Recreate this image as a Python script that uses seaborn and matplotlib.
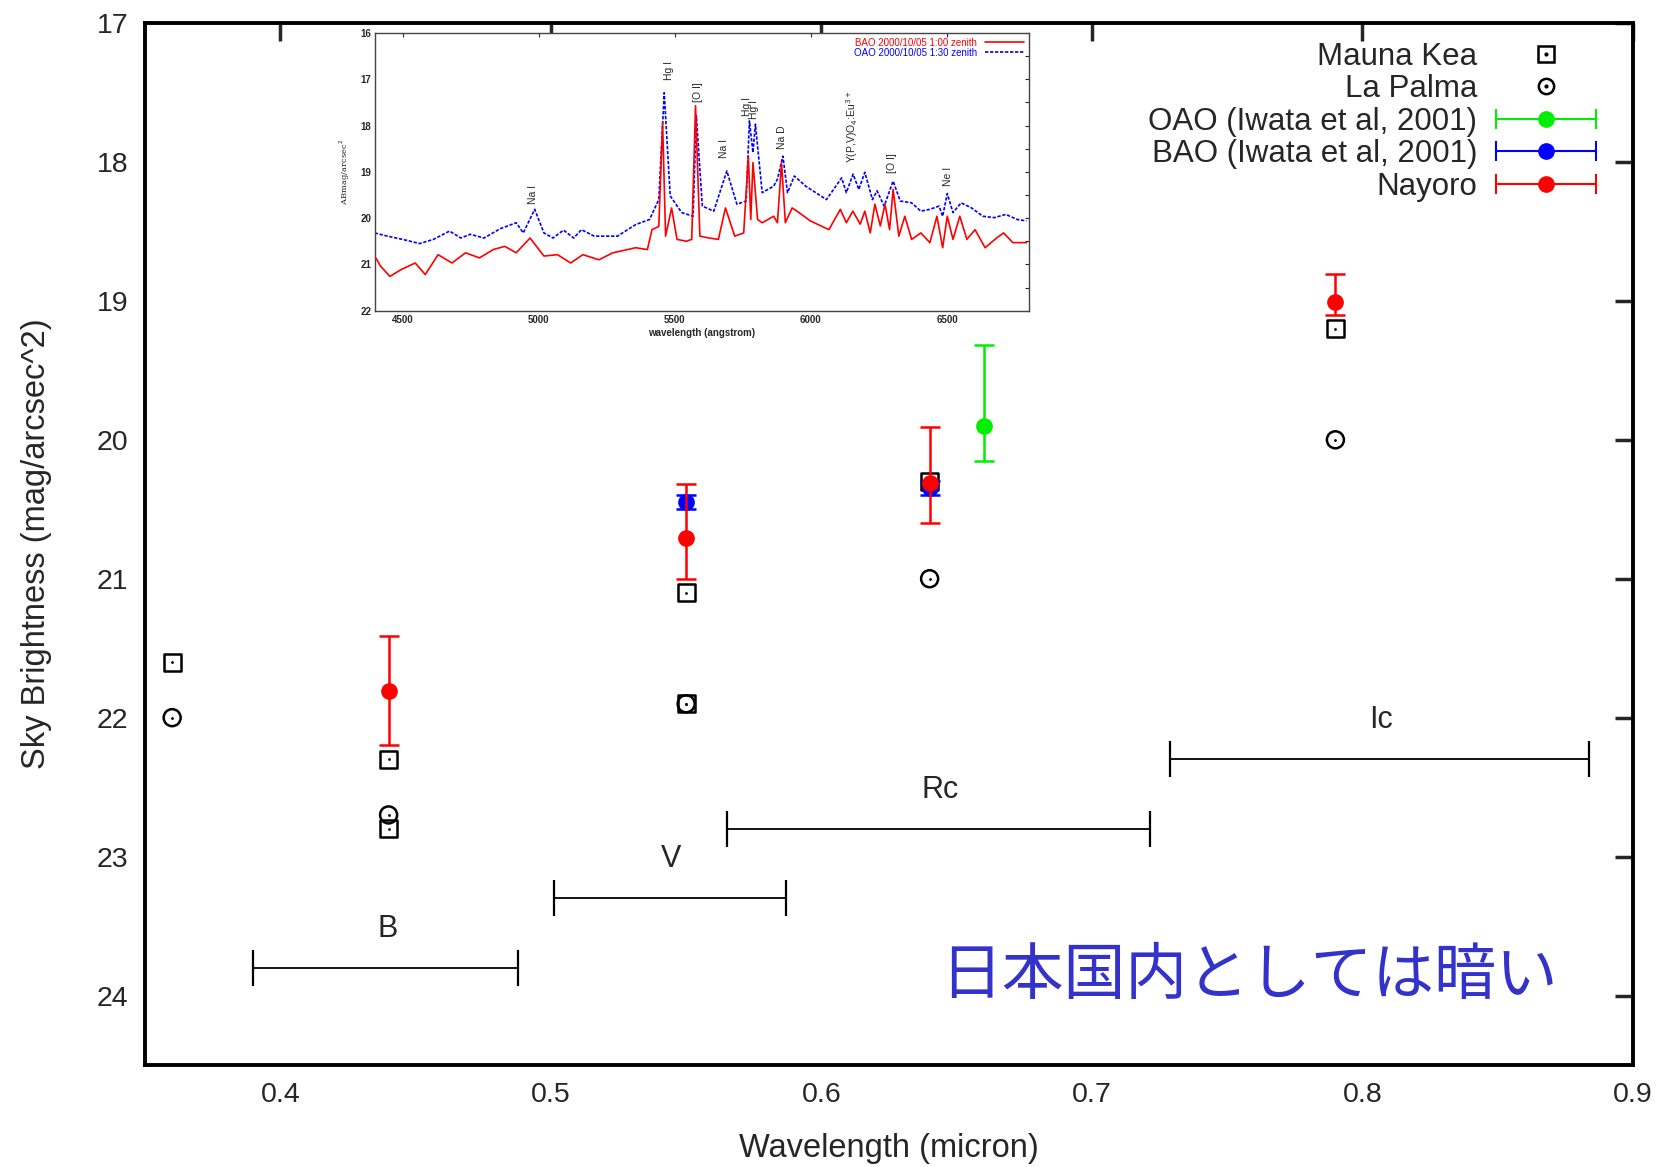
import numpy as np
import pandas as pd
import matplotlib
matplotlib.use('Agg')
import matplotlib.pyplot as plt
import seaborn as sns
from matplotlib.lines import Line2D
from matplotlib.legend_handler import HandlerBase, HandlerTuple

# ---- main data (wavelength in micron, sky brightness in mag/arcsec^2) ----
mk_wave = [0.36, 0.44, 0.44, 0.55, 0.55, 0.64, 0.79]
mk_mag = [21.6, 22.3, 22.8, 21.1, 21.9, 20.3, 19.2]

lp_wave = [0.36, 0.44, 0.55, 0.64, 0.79]
lp_mag = [22.0, 22.7, 21.9, 21.0, 20.0]

oao_wave = [0.66]
oao_mag = [19.9]
oao_err_lo = [0.58]
oao_err_hi = [0.25]

bao_wave = [0.55, 0.64]
bao_mag = [20.45, 20.35]
bao_err = [0.05, 0.05]

nay_wave = [0.44, 0.55, 0.64, 0.79]
nay_mag = [21.81, 20.71, 20.31, 19.01]
nay_err_lo = [0.40, 0.39, 0.40, 0.20]
nay_err_hi = [0.39, 0.29, 0.29, 0.09]

band_names = ['B', 'V', 'Rc', 'Ic']
band_lo = [0.390, 0.501, 0.565, 0.729]
band_hi = [0.488, 0.587, 0.7215, 0.8836]
band_mag = [23.8, 23.3, 22.8, 22.3]

# ---- inset spectra (angstrom, ABmag/arcsec^2) ----
oao_spec_wave = [4397, 4444, 4500, 4562, 4613, 4672, 4714, 4748, 4799, 4858,
                 4917, 4943, 4985, 5019, 5052, 5091, 5128, 5157, 5204, 5289,
                 5356, 5407, 5441, 5461, 5483, 5525, 5567, 5579, 5601, 5643,
                 5691, 5728, 5762, 5774, 5787, 5796, 5821, 5863, 5877, 5897,
                 5914, 5939, 5981, 6057, 6113, 6130, 6155, 6176, 6198, 6226,
                 6243, 6269, 6302, 6328, 6370, 6404, 6437, 6471, 6484, 6501,
                 6522, 6552, 6590, 6632, 6674, 6716, 6758, 6792]
oao_spec_mag = [20.32, 20.39, 20.46, 20.55, 20.46, 20.28, 20.43, 20.35, 20.43, 20.23,
                20.10, 20.32, 19.81, 20.32, 20.43, 20.26, 20.43, 20.25, 20.39, 20.39,
                20.14, 20.03, 19.60, 17.29, 19.52, 19.88, 19.96, 17.79, 19.74, 19.85,
                18.98, 19.70, 19.63, 17.90, 18.58, 17.97, 19.45, 19.31, 19.16, 18.66,
                19.45, 19.09, 19.31, 19.60, 19.13, 19.45, 19.05, 19.38, 19.01, 19.60,
                19.41, 19.74, 19.20, 19.63, 19.67, 19.85, 19.81, 19.74, 19.96, 19.47,
                19.88, 19.67, 19.78, 19.96, 19.99, 19.92, 20.03, 20.06]

bao_spec_wave = [4397, 4419, 4453, 4495, 4546, 4583, 4630, 4681, 4731, 4782,
                 4833, 4875, 4917, 4968, 5019, 5069, 5117, 5162, 5221, 5272,
                 5356, 5399, 5416, 5441, 5455, 5466, 5488, 5508, 5542, 5562,
                 5576, 5592, 5626, 5660, 5686, 5720, 5753, 5770, 5779, 5787,
                 5804, 5821, 5863, 5877, 5892, 5906, 5931, 5956, 5998, 6066,
                 6108, 6130, 6154, 6181, 6198, 6218, 6235, 6255, 6272, 6289,
                 6302, 6323, 6345, 6370, 6404, 6437, 6463, 6484, 6501, 6522,
                 6547, 6573, 6603, 6640, 6682, 6708, 6742, 6792]
bao_spec_mag = [20.82, 21.04, 21.26, 21.11, 20.97, 21.22, 20.79, 20.97, 20.75, 20.86,
                20.68, 20.61, 20.75, 20.43, 20.82, 20.79, 20.97, 20.79, 20.90, 20.75,
                20.64, 20.68, 20.25, 20.18, 17.94, 20.39, 19.78, 20.46, 20.50, 20.46,
                17.57, 20.39, 20.43, 20.46, 19.78, 20.39, 20.32, 18.66, 20.03, 18.80,
                20.03, 20.10, 19.96, 20.10, 18.80, 20.10, 19.78, 19.88, 20.06, 20.25,
                19.81, 20.10, 19.85, 20.13, 19.85, 20.32, 19.70, 20.17, 19.70, 20.25,
                19.38, 20.39, 19.96, 20.46, 20.32, 20.53, 19.96, 20.64, 19.96, 20.46,
                19.96, 20.46, 20.25, 20.64, 20.43, 20.32, 20.53, 20.53]

line_names = ['Na I', 'Hg I', '[O I]', 'Na I', 'Hg I', 'Hg I', 'Na D',
              r'Y(P,V)O$_4$:Eu$^{3+}$', '[O I]', 'Ne I']
line_wave = [4978, 5478, 5584, 5681, 5764, 5792, 5893, 6150, 6299, 6505]
line_mag = [19.70, 17.02, 17.50, 18.71, 17.80, 17.86, 18.51, 18.80, 19.02, 19.31]

sns.set_theme(style='white')
plt.rcParams['font.family'] = ['Liberation Sans', 'DejaVu Sans']

fig = plt.figure(figsize=(16.68, 11.67), dpi=100)
ax = fig.add_axes([0.087, 0.0874, 0.892, 0.8929])


class ErrHandler(HandlerBase):
    # gnuplot-like key sample: horizontal bar with caps and a dot in the middle
    def create_artists(self, legend, orig_handle, xdescent, ydescent,
                       width, height, fontsize, trans):
        c = orig_handle.get_color()
        y = height / 2 - ydescent
        bar = Line2D([-xdescent, width - xdescent], [y, y], color=c, lw=1.5,
                     marker='|', markersize=14, markeredgewidth=1.5, transform=trans)
        dot = Line2D([width / 2 - xdescent], [y], color=c, marker='o',
                     markersize=11, linestyle='none', transform=trans)
        return [bar, dot]


# Mauna Kea: open square with centre dot
mk_df = pd.DataFrame({'wave': mk_wave, 'mag': mk_mag})
sns.scatterplot(data=mk_df, x='wave', y='mag', marker='s', s=150,
                facecolor='none', edgecolor='black', linewidth=1.8, ax=ax, zorder=3)
sns.scatterplot(data=mk_df, x='wave', y='mag', marker='o', s=4,
                color='black', linewidth=0, ax=ax, zorder=3)

# La Palma: open circle with centre dot
lp_df = pd.DataFrame({'wave': lp_wave, 'mag': lp_mag})
sns.scatterplot(data=lp_df, x='wave', y='mag', marker='o', s=150,
                facecolor='none', edgecolor='black', linewidth=1.8, ax=ax, zorder=3)
sns.scatterplot(data=lp_df, x='wave', y='mag', marker='o', s=4,
                color='black', linewidth=0, ax=ax, zorder=3)

ax.errorbar(oao_wave, oao_mag, yerr=[oao_err_lo, oao_err_hi], fmt='o', color='#00ee00',
            ecolor='#00ee00', markersize=11, elinewidth=1.8, capsize=7, capthick=1.8, zorder=4)
ax.errorbar(bao_wave, bao_mag, yerr=bao_err, fmt='o', color='#0000ff',
            ecolor='#0000ff', markersize=11, elinewidth=1.8, capsize=7, capthick=1.8, zorder=4)
ax.errorbar(nay_wave, nay_mag, yerr=[nay_err_lo, nay_err_hi], fmt='o', color='#ff0000',
            ecolor='#ff0000', markersize=11, elinewidth=1.8, capsize=7, capthick=1.8, zorder=5)

# filter bands
for name, lo, hi, m in zip(band_names, band_lo, band_hi, band_mag):
    ax.errorbar([(lo + hi) / 2], [m], xerr=[(hi - lo) / 2], fmt='none', ecolor='black',
                elinewidth=1.3, capsize=13, capthick=1.6)
    ax.text((lo + hi) / 2 + 0.0005, m - 0.28, name, fontsize=22, ha='center', va='center')

ax.text(0.758, 23.86, '日本国内としては暗い', fontsize=44.5, color='#3333cc',
        ha='center', va='center', family=['Noto Sans CJK JP', 'DejaVu Sans'])

ax.set_xlim(0.35, 0.9)
ax.set_ylim(24.5, 17)
ax.set_xticks([0.4, 0.5, 0.6, 0.7, 0.8, 0.9])
ax.set_xticklabels(['0.4', '0.5', '0.6', '0.7', '0.8', '0.9'])
ax.set_yticks([17, 18, 19, 20, 21, 22, 23, 24])
ax.set_xlabel('Wavelength (micron)', fontsize=23.5, labelpad=18)
ax.set_ylabel('Sky Brightness (mag/arcsec^2)', fontsize=23.5, labelpad=32)
ax.tick_params(axis='both', direction='in', length=13, width=2.5, labelsize=20.5,
               top=True, right=True, pad=12)
for sp in ax.spines.values():
    sp.set_linewidth(2.8)
    sp.set_color('black')

mk_h = (Line2D([], [], marker='s', markersize=11, markerfacecolor='none',
               markeredgecolor='black', markeredgewidth=1.8, linestyle='none'),
        Line2D([], [], marker='o', markersize=2, color='black', linestyle='none'))
lp_h = (Line2D([], [], marker='o', markersize=11, markerfacecolor='none',
               markeredgecolor='black', markeredgewidth=1.8, linestyle='none'),
        Line2D([], [], marker='o', markersize=2, color='black', linestyle='none'))
oao_h = Line2D([], [], color='#00ee00')
bao_h = Line2D([], [], color='#0000ff')
nay_h = Line2D([], [], color='#ff0000')
# markerfirst=False right-aligns the labels against the key samples
ax.legend([mk_h, lp_h, oao_h, bao_h, nay_h],
          ['Mauna Kea', 'La Palma', 'OAO (Iwata et al, 2001)',
           'BAO (Iwata et al, 2001)', 'Nayoro'],
          handler_map={tuple: HandlerTuple(ndivide=1),
                       oao_h: ErrHandler(), bao_h: ErrHandler(), nay_h: ErrHandler()},
          loc='upper right', bbox_to_anchor=(0.994, 1.009), markerfirst=False,
          frameon=False, fontsize=22.5, handlelength=3.2, handletextpad=0.6,
          labelspacing=0.08, numpoints=1)

# ---- inset spectrum ----
ins = fig.add_axes([0.2251, 0.7338, 0.3916, 0.2379])
sns.lineplot(x=bao_spec_wave, y=bao_spec_mag, color='#ff0000', lw=1.2, ax=ins,
             label='BAO 2000/10/05 1:00 zenith', zorder=3)
sns.lineplot(x=oao_spec_wave, y=oao_spec_mag, color='#0000ff', lw=1.2, ax=ins,
             linestyle=(0, (2, 1)), label='OAO 2000/10/05 1:30 zenith', zorder=2)
for name, w, m in zip(line_names, line_wave, line_mag):
    ins.text(w, m, name, rotation=90, ha='center', va='bottom', fontsize=7.5)
ins.set_xlim(4400, 6800)
ins.set_ylim(22, 16)
ins.set_xticks([4500, 5000, 5500, 6000, 6500])
ins.set_yticks([16, 17, 18, 19, 20, 21, 22])
ins.set_yticks(np.arange(16, 22.01, 0.5), minor=True)
ins.tick_params(axis='both', which='both', direction='in', top=True, right=True,
                labelsize=7, length=3, width=0.8, pad=3)
for lab in ins.get_xticklabels() + ins.get_yticklabels():
    lab.set_fontweight('bold')
ins.set_xlabel('wavelength (angstrom)', fontsize=7, fontweight='bold', labelpad=2)
ins.set_ylabel('ABmag/arcsec$^2$', fontsize=6, family='DejaVu Serif', labelpad=6)
for sp in ins.spines.values():
    sp.set_linewidth(1.0)
    sp.set_color('#444444')
ins.legend(loc='upper right', markerfirst=False, frameon=False, fontsize=7,
           labelcolor='linecolor', handlelength=4, labelspacing=0.0,
           borderaxespad=0.1, handletextpad=0.8)

fig.savefig('out.png', dpi=100)
